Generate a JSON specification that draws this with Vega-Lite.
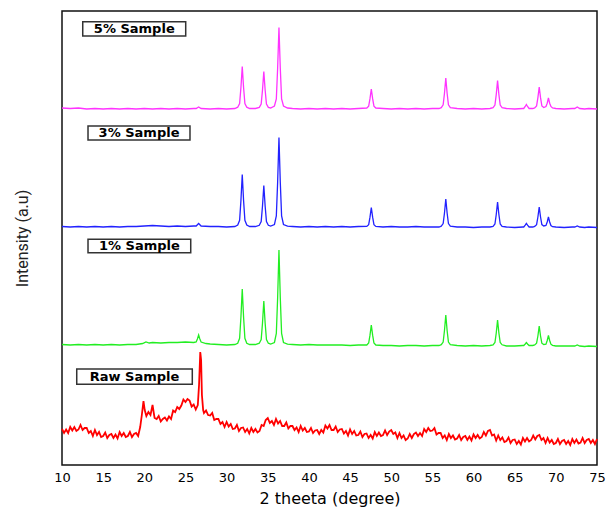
{
  "$schema": "https://vega.github.io/schema/vega-lite/v6.json",
  "width": 535,
  "height": 454,
  "autosize": "none",
  "padding": {"left": 62, "top": 11, "right": 9, "bottom": 44},
  "background": "white",
  "config": {
    "view": {"stroke": "#111", "strokeWidth": 1.5},
    "axis": {"grid": false}
  },
  "datasets": {
    "m": [
      {"x":10,"y":357},{"x":11,"y":356.5},{"x":12,"y":357},{"x":13,"y":356},{"x":14,"y":356.5},{"x":15,"y":356},{"x":16,"y":356.5},{"x":17,"y":356},{"x":18,"y":356.5},{"x":19,"y":356},{"x":20,"y":356.5},{"x":21,"y":356},{"x":22,"y":356.5},{"x":23,"y":356},{"x":24,"y":356.5},{"x":25,"y":356},{"x":26,"y":356.5},{"x":26.3,"y":356.5},{"x":26.6,"y":358},{"x":26.9,"y":356.5},{"x":28,"y":356},{"x":29,"y":356.5},{"x":30,"y":356},{"x":31,"y":356.5},
      {"x":31.35,"y":357.8},{"x":31.58,"y":361.5},{"x":31.74,"y":377.5},{"x":31.9,"y":398.5},{"x":32.06,"y":377.5},{"x":32.22,"y":361.5},{"x":32.45,"y":357.8},
      {"x":32.8,"y":356.5},{"x":33.5,"y":356.5},
      {"x":33.97,"y":357.6},{"x":34.2,"y":361},{"x":34.36,"y":375},{"x":34.52,"y":393.5},{"x":34.68,"y":375},{"x":34.84,"y":361},{"x":35.07,"y":357.6},
      {"x":35.35,"y":357},
      {"x":35.81,"y":359},{"x":36.04,"y":366},{"x":36.2,"y":397},{"x":36.36,"y":437.5},{"x":36.52,"y":397},{"x":36.68,"y":366},{"x":36.91,"y":359},
      {"x":37.4,"y":357},{"x":38,"y":356.5},{"x":39,"y":356},{"x":40,"y":356.5},{"x":41,"y":356},{"x":42,"y":356.5},{"x":43,"y":356},{"x":44,"y":356.5},{"x":45,"y":356},{"x":46,"y":356.5},
      {"x":47.03,"y":357},{"x":47.26,"y":358.8},{"x":47.42,"y":366.3},{"x":47.58,"y":376},{"x":47.74,"y":366.3},{"x":47.9,"y":358.8},{"x":48.13,"y":357},
      {"x":49,"y":356.5},{"x":50,"y":356},{"x":51,"y":356.5},{"x":52,"y":356},{"x":53,"y":356.5},{"x":54,"y":356},{"x":55,"y":356.5},{"x":55.8,"y":356.5},
      {"x":56.08,"y":357.4},{"x":56.31,"y":360.2},{"x":56.47,"y":371.8},{"x":56.63,"y":387},{"x":56.79,"y":371.8},{"x":56.95,"y":360.2},{"x":57.18,"y":357.4},
      {"x":58,"y":356.5},{"x":59,"y":356},{"x":60,"y":356.5},{"x":61,"y":356},{"x":62,"y":356.5},
      {"x":62.37,"y":357.3},{"x":62.6,"y":359.9},{"x":62.76,"y":370.5},{"x":62.92,"y":384.5},{"x":63.08,"y":370.5},{"x":63.24,"y":359.9},{"x":63.47,"y":357.3},
      {"x":64,"y":356.5},{"x":65,"y":356},{"x":66,"y":356.5},
      {"x":66.1,"y":356.5},{"x":66.28,"y":358.5},{"x":66.42,"y":360.5},{"x":66.56,"y":358.5},{"x":66.75,"y":356.5},
      {"x":67.2,"y":356.5},
      {"x":67.43,"y":357.1},{"x":67.66,"y":359.1},{"x":67.82,"y":367.3},{"x":67.98,"y":378},{"x":68.14,"y":367.3},{"x":68.3,"y":359.1},{"x":68.53,"y":357.5},
      {"x":68.8,"y":358.5},{"x":68.95,"y":361.8},{"x":69.1,"y":367},{"x":69.25,"y":361.8},{"x":69.4,"y":358.5},{"x":69.6,"y":357},
      {"x":70,"y":356.5},{"x":71,"y":356},{"x":72,"y":356.5},{"x":72.3,"y":356.5},{"x":72.6,"y":358},{"x":72.9,"y":356.5},{"x":73.5,"y":356},{"x":74,"y":356.5},{"x":75,"y":356}
    ],
    "b": [
      {"x":10,"y":238.5},{"x":11,"y":238},{"x":12,"y":238.5},{"x":13,"y":238},{"x":14,"y":238.5},{"x":15,"y":238},{"x":16,"y":238.5},{"x":17,"y":238},{"x":18,"y":238.5},{"x":19,"y":238.5},{"x":20,"y":239},{"x":21,"y":239.5},{"x":22,"y":239},{"x":23,"y":238.5},{"x":24,"y":239},{"x":25,"y":238.5},{"x":26,"y":239},{"x":26.3,"y":239},{"x":26.6,"y":241.5},{"x":26.9,"y":239},{"x":28,"y":238.5},{"x":29,"y":238.5},{"x":30,"y":238},{"x":31,"y":238.5},
      {"x":31.35,"y":240},{"x":31.58,"y":244.7},{"x":31.74,"y":264.5},{"x":31.9,"y":290.5},{"x":32.06,"y":264.5},{"x":32.22,"y":244.7},{"x":32.45,"y":240},
      {"x":32.8,"y":238.5},{"x":33.5,"y":238.5},
      {"x":33.97,"y":239.7},{"x":34.2,"y":243.4},{"x":34.36,"y":259},{"x":34.52,"y":279.5},{"x":34.68,"y":259},{"x":34.84,"y":243.4},{"x":35.07,"y":239.7},
      {"x":35.35,"y":239},
      {"x":35.81,"y":240.5},{"x":36.04,"y":249},{"x":36.2,"y":283},{"x":36.36,"y":327.5},{"x":36.52,"y":283},{"x":36.68,"y":249},{"x":36.91,"y":240.5},
      {"x":37.4,"y":238.8},{"x":38,"y":238.5},{"x":39,"y":238},{"x":40,"y":238.5},{"x":41,"y":238},{"x":42,"y":238.5},{"x":43,"y":238},{"x":44,"y":238.5},{"x":45,"y":238},{"x":46,"y":238.5},
      {"x":47.03,"y":238.6},{"x":47.26,"y":240.3},{"x":47.42,"y":247.8},{"x":47.58,"y":257.5},{"x":47.74,"y":247.8},{"x":47.9,"y":240.3},{"x":48.13,"y":238.6},
      {"x":49,"y":238},{"x":50,"y":238.5},{"x":51,"y":238},{"x":52,"y":238},{"x":53,"y":238.5},{"x":54,"y":238},{"x":55,"y":238},{"x":55.8,"y":238},
      {"x":56.08,"y":238.8},{"x":56.31,"y":241.4},{"x":56.47,"y":252},{"x":56.63,"y":266},{"x":56.79,"y":252},{"x":56.95,"y":241.4},{"x":57.18,"y":238.8},
      {"x":58,"y":238},{"x":59,"y":238},{"x":60,"y":237.5},{"x":61,"y":238},{"x":62,"y":238},
      {"x":62.37,"y":238.7},{"x":62.6,"y":241},{"x":62.76,"y":250.5},{"x":62.92,"y":263},{"x":63.08,"y":250.5},{"x":63.24,"y":241},{"x":63.47,"y":238.7},
      {"x":64,"y":238},{"x":65,"y":237.5},{"x":66,"y":238},
      {"x":66.1,"y":238},{"x":66.28,"y":239.8},{"x":66.42,"y":241.5},{"x":66.56,"y":239.8},{"x":66.75,"y":238},
      {"x":67.2,"y":238},
      {"x":67.43,"y":238.6},{"x":67.66,"y":240.4},{"x":67.82,"y":248},{"x":67.98,"y":258},{"x":68.14,"y":248},{"x":68.3,"y":240.4},{"x":68.53,"y":239},
      {"x":68.8,"y":239.5},{"x":68.95,"y":243},{"x":69.1,"y":248},{"x":69.25,"y":243},{"x":69.4,"y":239.5},{"x":69.6,"y":238.3},
      {"x":70,"y":238},{"x":71,"y":237.5},{"x":72,"y":238},{"x":72.3,"y":238},{"x":72.6,"y":239},{"x":72.9,"y":238},{"x":73.5,"y":237.5},{"x":74,"y":238},{"x":75,"y":237.5}
    ],
    "g": [
      {"x":10,"y":120.5},{"x":11,"y":120},{"x":12,"y":120.5},{"x":13,"y":120},{"x":14,"y":120.5},{"x":15,"y":120},{"x":16,"y":120.5},{"x":17,"y":120},{"x":18,"y":120.5},{"x":19,"y":120.5},{"x":19.8,"y":121.5},{"x":20.2,"y":123},{"x":20.6,"y":122},{"x":21,"y":122.5},{"x":22,"y":122},{"x":23,"y":122.5},{"x":24,"y":122.5},{"x":25,"y":123},{"x":26,"y":122.5},{"x":26.3,"y":123},{"x":26.45,"y":126},{"x":26.6,"y":130},{"x":26.75,"y":126},{"x":26.9,"y":123},{"x":27.5,"y":121.5},{"x":28,"y":121},{"x":29,"y":120.5},{"x":30,"y":120},{"x":31,"y":120.5},
      {"x":31.35,"y":121.7},{"x":31.58,"y":126.7},{"x":31.74,"y":148},{"x":31.9,"y":176},{"x":32.06,"y":148},{"x":32.22,"y":126.7},{"x":32.45,"y":121.7},
      {"x":32.8,"y":120.5},{"x":33.5,"y":120.5},
      {"x":33.97,"y":121.8},{"x":34.2,"y":125.5},{"x":34.36,"y":142},{"x":34.52,"y":164},{"x":34.68,"y":142},{"x":34.84,"y":125.5},{"x":35.07,"y":121.8},
      {"x":35.35,"y":121},
      {"x":35.81,"y":122.5},{"x":36.04,"y":131.5},{"x":36.2,"y":167.5},{"x":36.36,"y":215},{"x":36.52,"y":167.5},{"x":36.68,"y":131.5},{"x":36.91,"y":122.5},
      {"x":37.4,"y":120.8},{"x":38,"y":120.5},{"x":39,"y":120},{"x":40,"y":120.5},{"x":41,"y":120},{"x":42,"y":120},{"x":43,"y":120},{"x":44,"y":120},{"x":45,"y":119.5},{"x":46,"y":120},
      {"x":47.03,"y":120},{"x":47.26,"y":122},{"x":47.42,"y":129.8},{"x":47.58,"y":140},{"x":47.74,"y":129.8},{"x":47.9,"y":122},{"x":48.13,"y":120},
      {"x":49,"y":119.5},{"x":50,"y":119.5},{"x":51,"y":119},{"x":52,"y":119.5},{"x":53,"y":119.5},{"x":54,"y":119},{"x":55,"y":119.5},{"x":55.8,"y":119.5},
      {"x":56.08,"y":120.3},{"x":56.31,"y":123},{"x":56.47,"y":134.5},{"x":56.63,"y":150},{"x":56.79,"y":134.5},{"x":56.95,"y":123},{"x":57.18,"y":120.3},
      {"x":58,"y":119.5},{"x":59,"y":119},{"x":60,"y":119.5},{"x":61,"y":119},{"x":62,"y":119.5},
      {"x":62.37,"y":120.2},{"x":62.6,"y":122.5},{"x":62.76,"y":132},{"x":62.92,"y":145},{"x":63.08,"y":132},{"x":63.24,"y":122.5},{"x":63.47,"y":120.2},
      {"x":64,"y":119},{"x":65,"y":119},{"x":66,"y":119.5},
      {"x":66.1,"y":119.5},{"x":66.28,"y":121},{"x":66.42,"y":122.5},{"x":66.56,"y":121},{"x":66.75,"y":119.5},
      {"x":67.2,"y":119.5},
      {"x":67.43,"y":120},{"x":67.66,"y":121.8},{"x":67.82,"y":129},{"x":67.98,"y":139},{"x":68.14,"y":129},{"x":68.3,"y":121.8},{"x":68.53,"y":120.5},
      {"x":68.8,"y":120.8},{"x":68.95,"y":124.5},{"x":69.1,"y":129.5},{"x":69.25,"y":124.5},{"x":69.4,"y":120.8},{"x":69.6,"y":119.7},
      {"x":70,"y":119},{"x":71,"y":119},{"x":72,"y":119},{"x":72.3,"y":119},{"x":72.6,"y":120},{"x":72.9,"y":119},{"x":73.5,"y":118.5},{"x":74,"y":119},{"x":75,"y":118.5}
    ],
    "r": [
      {"x":10.0,"y":36},{"x":10.25,"y":32},{"x":10.5,"y":35.5},{"x":10.75,"y":32},{"x":11.0,"y":38},{"x":11.25,"y":34.5},{"x":11.5,"y":38},{"x":11.75,"y":34},{"x":12.0,"y":35.5},{"x":12.25,"y":40},{"x":12.5,"y":35},{"x":12.75,"y":37},
      {"x":13.0,"y":37},{"x":13.25,"y":32},{"x":13.5,"y":34},{"x":13.75,"y":29},{"x":14.0,"y":35},{"x":14.25,"y":30},{"x":14.5,"y":33},{"x":14.75,"y":28},{"x":15.0,"y":29},{"x":15.25,"y":32.5},{"x":15.5,"y":27},{"x":15.75,"y":30},
      {"x":16.0,"y":31},{"x":16.25,"y":27},{"x":16.5,"y":30.5},{"x":16.75,"y":26.5},{"x":17.0,"y":33},{"x":17.25,"y":29},{"x":17.5,"y":32},{"x":17.75,"y":28},{"x":18.0,"y":29},{"x":18.25,"y":33},{"x":18.5,"y":28},{"x":18.75,"y":31},
      {"x":19.0,"y":32},{"x":19.25,"y":29},{"x":19.5,"y":38},{"x":19.7,"y":50},{"x":19.9,"y":64},{"x":20.05,"y":55},{"x":20.25,"y":49},{"x":20.5,"y":53},{"x":20.75,"y":50},{"x":21.0,"y":60},{"x":21.15,"y":52},{"x":21.25,"y":47},
      {"x":21.5,"y":46},{"x":21.75,"y":49},{"x":22.0,"y":43.5},{"x":22.25,"y":46},{"x":22.5,"y":47.5},{"x":22.75,"y":44.5},{"x":23.0,"y":48.5},{"x":23.25,"y":46},{"x":23.5,"y":54.5},{"x":23.75,"y":53},{"x":24.0,"y":58},{"x":24.25,"y":56},
      {"x":24.5,"y":59.5},{"x":24.75,"y":65.5},{"x":25.0,"y":63},{"x":25.25,"y":66},{"x":25.5,"y":64.5},{"x":25.75,"y":58.5},{"x":26.0,"y":60.5},{"x":26.25,"y":55.5},{"x":26.5,"y":60},{"x":26.65,"y":80},{"x":26.8,"y":113},{"x":26.9,"y":105},
      {"x":27.0,"y":70},{"x":27.15,"y":55},{"x":27.25,"y":52},{"x":27.5,"y":54.5},{"x":27.75,"y":50},{"x":28.0,"y":49.5},{"x":28.25,"y":52},{"x":28.5,"y":45},{"x":28.75,"y":46},{"x":29.0,"y":46},{"x":29.25,"y":41},{"x":29.5,"y":43},
      {"x":29.75,"y":38},{"x":30.0,"y":43},{"x":30.25,"y":38.5},{"x":30.5,"y":41},{"x":30.75,"y":36},{"x":31.0,"y":36.5},{"x":31.25,"y":40},{"x":31.5,"y":34},{"x":31.75,"y":37},{"x":32.0,"y":37.5},{"x":32.25,"y":33},{"x":32.5,"y":36},
      {"x":32.75,"y":31.5},{"x":33.0,"y":37},{"x":33.25,"y":33},{"x":33.5,"y":36},{"x":33.75,"y":32.5},{"x":34.0,"y":34},{"x":34.25,"y":40},{"x":34.5,"y":39},{"x":34.75,"y":45},{"x":35.0,"y":47},{"x":35.25,"y":42},{"x":35.5,"y":44},
      {"x":35.75,"y":40},{"x":36.0,"y":46},{"x":36.25,"y":41.5},{"x":36.5,"y":44},{"x":36.75,"y":39},{"x":37.0,"y":39},{"x":37.25,"y":42.5},{"x":37.5,"y":36.5},{"x":37.75,"y":39},{"x":38.0,"y":39},{"x":38.25,"y":35},{"x":38.5,"y":37.5},
      {"x":38.75,"y":33},{"x":39.0,"y":39},{"x":39.25,"y":34.5},{"x":39.5,"y":37},{"x":39.75,"y":33},{"x":40.0,"y":33.5},{"x":40.25,"y":37},{"x":40.5,"y":32},{"x":40.75,"y":34.5},{"x":41.0,"y":35},{"x":41.25,"y":31},{"x":41.5,"y":35},
      {"x":41.75,"y":32.5},{"x":42.0,"y":39.5},{"x":42.25,"y":36.5},{"x":42.5,"y":40},{"x":42.75,"y":35},{"x":43.0,"y":35},{"x":43.25,"y":38.5},{"x":43.5,"y":33},{"x":43.75,"y":35.5},{"x":44.0,"y":36},{"x":44.25,"y":31.5},{"x":44.5,"y":34},
      {"x":44.75,"y":29.5},{"x":45.0,"y":35.5},{"x":45.25,"y":31},{"x":45.5,"y":34},{"x":45.75,"y":29.5},{"x":46.0,"y":30},{"x":46.25,"y":33.5},{"x":46.5,"y":28},{"x":46.75,"y":31},{"x":47.0,"y":31.5},{"x":47.25,"y":27},{"x":47.5,"y":30},
      {"x":47.75,"y":26.5},{"x":48.0,"y":33},{"x":48.25,"y":29},{"x":48.5,"y":32.5},{"x":48.75,"y":29},{"x":49.0,"y":30},{"x":49.25,"y":34.5},{"x":49.5,"y":30},{"x":49.75,"y":33.5},{"x":50.0,"y":35},{"x":50.25,"y":31},{"x":50.5,"y":32.5},
      {"x":50.75,"y":27},{"x":51.0,"y":32},{"x":51.25,"y":27},{"x":51.5,"y":29.5},{"x":51.75,"y":25},{"x":52.0,"y":26.5},{"x":52.25,"y":31},{"x":52.5,"y":27},{"x":52.75,"y":31},{"x":53.0,"y":32.5},{"x":53.25,"y":29},{"x":53.5,"y":32},
      {"x":53.75,"y":29},{"x":54.0,"y":36},{"x":54.25,"y":33},{"x":54.5,"y":37},{"x":54.75,"y":34},{"x":55.0,"y":34.5},{"x":55.25,"y":37},{"x":55.5,"y":30.5},{"x":55.75,"y":32},{"x":56.0,"y":32},{"x":56.25,"y":27},{"x":56.5,"y":29.5},
      {"x":56.75,"y":25},{"x":57.0,"y":31},{"x":57.25,"y":27},{"x":57.5,"y":29.5},{"x":57.75,"y":25.5},{"x":58.0,"y":26.5},{"x":58.25,"y":30},{"x":58.5,"y":25},{"x":58.75,"y":28},{"x":59.0,"y":29},{"x":59.25,"y":25},{"x":59.5,"y":28.5},
      {"x":59.75,"y":24.5},{"x":60.0,"y":30.5},{"x":60.25,"y":27},{"x":60.5,"y":30},{"x":60.75,"y":26.5},{"x":61.0,"y":28},{"x":61.25,"y":33},{"x":61.5,"y":29.5},{"x":61.75,"y":34},{"x":62.0,"y":35},{"x":62.25,"y":29.5},{"x":62.5,"y":30.5},
      {"x":62.75,"y":24.5},{"x":63.0,"y":29.5},{"x":63.25,"y":25},{"x":63.5,"y":27.5},{"x":63.75,"y":23},{"x":64.0,"y":24},{"x":64.25,"y":27.5},{"x":64.5,"y":22},{"x":64.75,"y":25},{"x":65.0,"y":25.5},{"x":65.25,"y":21},{"x":65.5,"y":24},
      {"x":65.75,"y":20.5},{"x":66.0,"y":27},{"x":66.25,"y":23.5},{"x":66.5,"y":27},{"x":66.75,"y":23.5},{"x":67.0,"y":25},{"x":67.25,"y":29.5},{"x":67.5,"y":25.5},{"x":67.75,"y":29},{"x":68.0,"y":30},{"x":68.25,"y":25},{"x":68.5,"y":27},
      {"x":68.75,"y":22},{"x":69.0,"y":27},{"x":69.25,"y":22.5},{"x":69.5,"y":25},{"x":69.75,"y":21},{"x":70.0,"y":22},{"x":70.25,"y":26},{"x":70.5,"y":21},{"x":70.75,"y":24},{"x":71.0,"y":25},{"x":71.25,"y":21},{"x":71.5,"y":24},
      {"x":71.75,"y":20},{"x":72.0,"y":26},{"x":72.25,"y":22},{"x":72.5,"y":25.5},{"x":72.75,"y":21.5},{"x":73.0,"y":22.5},{"x":73.25,"y":27},{"x":73.5,"y":22},{"x":73.75,"y":25},{"x":74.0,"y":26},{"x":74.25,"y":22},{"x":74.5,"y":25},
      {"x":74.75,"y":21},{"x":75.0,"y":26}
    ],
    "boxes": [
      {"x":12.52,"x2":25.03,"y":443.3,"y2":429,"cx":18.78,"cy":436.2,"t":"5% Sample"},
      {"x":13.16,"x2":25.55,"y":339,"y2":325,"cx":19.36,"cy":332,"t":"3% Sample"},
      {"x":13.16,"x2":25.64,"y":225.7,"y2":212.3,"cx":19.4,"cy":219,"t":"1% Sample"},
      {"x":11.79,"x2":25.83,"y":96,"y2":80.7,"cx":18.81,"cy":88.3,"t":"Raw Sample"}
    ]
  },
  "encoding": {
    "x": {
      "field": "x", "type": "quantitative",
      "scale": {"domain": [10, 75], "nice": false, "zero": false},
      "axis": {
        "values": [10,15,20,25,30,35,40,45,50,55,60,65,70,75],
        "title": "2 theeta (degree)",
        "domain": false, "ticks": false, "labelFlush": false, "labelOverlap": false,
        "labelFont": "DejaVu Sans", "labelFontSize": 13, "labelColor": "#000", "labelPadding": 6,
        "titleFont": "DejaVu Sans", "titleFontSize": 16, "titleFontWeight": "normal", "titleColor": "#000", "titlePadding": 6
      }
    },
    "y": {
      "field": "y", "type": "quantitative",
      "scale": {"domain": [0, 454], "nice": false, "zero": false},
      "axis": {
        "title": "Intensity (a.u)", "labels": false, "ticks": false, "domain": false,
        "titleFont": "Roboto, sans-serif",
        "titleFontSize": 16, "titleFontWeight": "normal", "titleColor": "#222",
        "titleX": -40, "titleY": 227, "titleAlign": "center", "titleBaseline": "middle", "titleAngle": 270
      }
    }
  },
  "layer": [
    {"data": {"name": "r"}, "mark": {"type": "line", "color": "#ff0000", "strokeWidth": 1.8}},
    {"data": {"name": "g"}, "mark": {"type": "line", "color": "#22ee22", "strokeWidth": 1.3}},
    {"data": {"name": "b"}, "mark": {"type": "line", "color": "#2222ff", "strokeWidth": 1.3}},
    {"data": {"name": "m"}, "mark": {"type": "line", "color": "#ff33ff", "strokeWidth": 1.3}},
    {"data": {"name": "boxes"}, "mark": {"type": "rect", "fill": "white", "stroke": "#333", "strokeWidth": 1.5},
     "encoding": {"x2": {"field": "x2"}, "y2": {"field": "y2"}}},
    {"data": {"name": "boxes"}, "mark": {"type": "text", "font": "DejaVu Sans", "fontWeight": "bold", "fontSize": 13, "color": "#000", "align": "center", "baseline": "middle"},
     "encoding": {"x": {"field": "cx", "type": "quantitative"}, "y": {"field": "cy", "type": "quantitative"}, "text": {"field": "t"}}}
  ]
}
